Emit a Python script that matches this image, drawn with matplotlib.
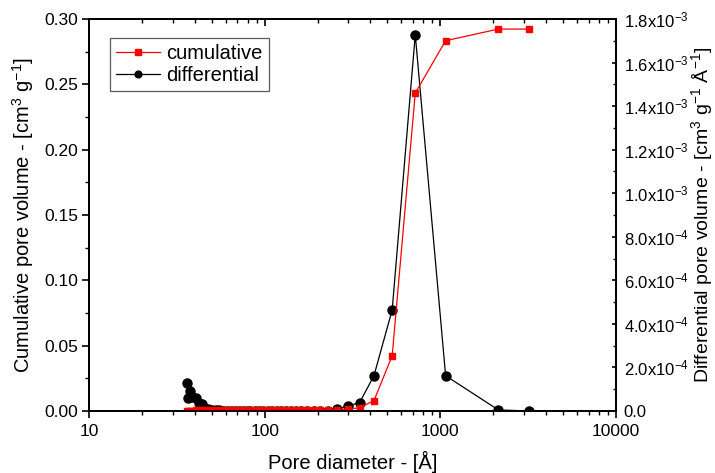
import numpy as np
import matplotlib
matplotlib.use('Agg')
from matplotlib import pyplot as plt
from matplotlib.ticker import FuncFormatter, MultipleLocator, LogLocator, NullFormatter

plt.rcParams['font.family'] = ['Liberation Sans', 'DejaVu Sans']
plt.rcParams['mathtext.fontset'] = 'custom'
plt.rcParams['mathtext.rm'] = 'Liberation Sans'
plt.rcParams['mathtext.it'] = 'Liberation Sans'
plt.rcParams['mathtext.default'] = 'regular'

# pore diameters in Angstrom
diameter = [36.0, 36.7, 37.6, 38.8, 40.6, 42.5, 43.8, 45.1, 47.7,
            50, 52.5, 55, 58, 61, 64, 67.5, 71, 75, 79, 83, 88, 93, 98,
            104, 110, 117, 124, 132, 141, 151, 162, 175, 190, 207, 230,
            259, 297, 347, 419, 532, 720, 1072, 2138, 3206]

# cumulative pore volume, cm3/g
cumulative = [0.0, 0.0001, 0.0002, 0.0003, 0.0004, 0.0005, 0.0006, 0.0006, 0.0007,
              0.0007, 0.0007, 0.0007, 0.0007, 0.0007, 0.0007, 0.0007, 0.0007, 0.0007,
              0.0007, 0.0007, 0.0007, 0.0007, 0.0007, 0.0007, 0.0007, 0.0007, 0.0007,
              0.0007, 0.0007, 0.0007, 0.0007, 0.0007, 0.0007, 0.0007, 0.0008,
              0.0010, 0.0013, 0.0025, 0.0079, 0.0423, 0.2434, 0.2834, 0.2923, 0.2923]

# differential pore volume, cm3/g/A
differential = [1.30e-4, 6.1e-5, 9.2e-5, 6.5e-5, 6.1e-5, 3.8e-5, 3.1e-5, 1.5e-5, 8e-6,
                4e-6, 3e-6, 3e-6, 2e-6, 2e-6, 2e-6, 2e-6, 1e-6, 1e-6, 1e-6, 1e-6,
                1e-6, 1e-6, 1e-6, 1e-6, 1e-6, 1e-6, 1e-6, 1e-6, 1e-6, 1e-6, 1e-6,
                1e-6, 1e-6, 1e-6, 2e-6, 9e-6, 2.3e-5, 3.8e-5, 1.62e-4, 4.64e-4,
                1.728e-3, 1.62e-4, 5e-6, 0.0]


def sci_label(v, pos):
    if abs(v) < 1e-12:
        return '0.0'
    e = int(np.floor(np.log10(abs(v)) + 1e-9))
    m = v / 10 ** e
    return '%.1fx10$^{%d}$' % (m, e)


fig = plt.figure(figsize=(7.15, 4.73), dpi=100)
ax = fig.add_axes([0.1245, 0.1311, 0.737, 0.8287])
ax2 = ax.twinx()
ax.set_zorder(ax2.get_zorder() + 1)
ax.patch.set_visible(False)

l2, = ax2.plot(diameter, differential, color='black', lw=0.9, marker='o',
               markersize=6.5, label='differential')
l1, = ax.plot(diameter, cumulative, color='red', lw=0.9, marker='s',
              markersize=5, label='cumulative')

ax.set_xscale('log')
ax.set_xlim(10, 10000)
ax.set_ylim(0, 0.30)
ax2.set_ylim(0, 1.8e-3)

ax.yaxis.set_major_locator(MultipleLocator(0.05))
ax.yaxis.set_minor_locator(MultipleLocator(0.025))
ax.yaxis.set_major_formatter(FuncFormatter(lambda v, p: '%.2f' % v))
ax2.yaxis.set_major_locator(MultipleLocator(2e-4))
ax2.yaxis.set_minor_locator(MultipleLocator(1e-4))
ax2.yaxis.set_major_formatter(FuncFormatter(sci_label))
ax.xaxis.set_major_locator(LogLocator(base=10, numticks=10))
ax.xaxis.set_minor_locator(LogLocator(base=10, subs=np.arange(2, 10), numticks=20))
ax.xaxis.set_minor_formatter(NullFormatter())
ax.xaxis.set_major_formatter(FuncFormatter(lambda v, p: '%d' % v))

for a in (ax, ax2):
    for s in a.spines.values():
        s.set_linewidth(1.3)

# left and bottom ticks outward, right and top ticks inward
ax.tick_params(axis='both', which='major', labelsize=12.5, length=5.2, width=1.2, direction='out')
ax.tick_params(axis='both', which='minor', length=3, width=1.0, direction='out')
ax.tick_params(axis='y', which='major', pad=2.5)
ax.tick_params(axis='x', which='major', pad=4)
ax.tick_params(axis='x', which='both', top=False)
ax2.tick_params(axis='y', which='major', labelsize=12, length=3.2, width=1.2, direction='in', pad=5.5)
ax2.tick_params(axis='y', which='minor', length=2.4, width=1.0, direction='in')

secx = ax.secondary_xaxis('top')
secx.tick_params(axis='x', which='major', direction='in', length=5, width=1.2, labeltop=False)
secx.tick_params(axis='x', which='minor', direction='in', length=3, width=1.0)
secx.xaxis.set_major_locator(LogLocator(base=10, numticks=10))
secx.xaxis.set_minor_locator(LogLocator(base=10, subs=np.arange(2, 10), numticks=20))
secx.xaxis.set_major_formatter(NullFormatter())
secx.xaxis.set_minor_formatter(NullFormatter())
secx.spines['top'].set_linewidth(1.3)

ax.set_xlabel('Pore diameter - [Å]', fontsize=14.5, va='top')
ax.xaxis.set_label_coords(0.5, -0.103)
ax.set_ylabel('Cumulative pore volume - [cm$^3$ g$^{-1}$]', fontsize=14.5)
ax.yaxis.set_label_coords(-0.100, 0.5)
ax2.set_ylabel('Differential pore volume - [cm$^3$ g$^{-1}$ Å$^{-1}$]', fontsize=14)
ax2.yaxis.set_label_coords(1.138, 0.5)

leg = ax.legend(handles=[l1, l2], loc='upper left', bbox_to_anchor=(0.040, 0.9515),
                borderaxespad=0, fontsize=14.5, frameon=True, fancybox=False,
                edgecolor='#333333', handlelength=2.2, markerscale=0.75,
                borderpad=0.3, labelspacing=0.15, handletextpad=0.3)
leg.get_frame().set_linewidth(0.9)

fig.savefig('out.png', dpi=100)
